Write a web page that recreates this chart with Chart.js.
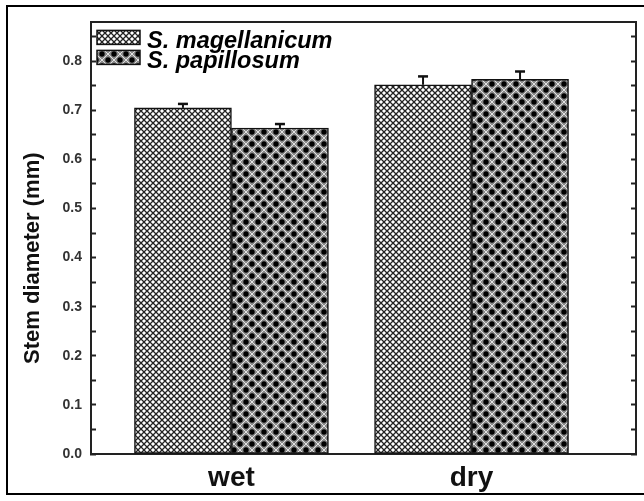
<!DOCTYPE html>
<html>
<head>
<meta charset="utf-8">
<script src="https://cdn.jsdelivr.net/npm/chart.js@4.4.1/dist/chart.umd.min.js"></script>
<style>
  html, body { margin: 0; padding: 0; background: #fff; overflow: hidden; }
  #wrap { position: relative; width: 644px; height: 501px; }
  #frame { position: absolute; left: 6px; top: 5px; width: 700px; height: 486px; border: 2px solid #000; pointer-events: none; }
</style>
</head>
<body>
<div id="wrap">
  <canvas id="chart" width="644" height="501"></canvas>
  <div id="frame"></div>
</div>
<script>
var categories = ['wet', 'dry'];
var seriesNames = ['S. magellanicum', 'S. papillosum'];
var magellanicum = [0.705, 0.752];
var papillosum = [0.664, 0.763];
var magellanicumErr = [0.008, 0.017];
var papillosumErr = [0.008, 0.016];
var yTickLabels = ['0.0', '0.1', '0.2', '0.3', '0.4', '0.5', '0.6', '0.7', '0.8'];
var yTitle = 'Stem diameter (mm)';

var ctx = document.getElementById('chart').getContext('2d');

function makePattern(size, paint) {
  var c = document.createElement('canvas');
  c.width = size; c.height = size;
  var g = c.getContext('2d');
  paint(g, size);
  return ctx.createPattern(c, 'repeat');
}

// light crosshatch
var magPattern = makePattern(6, function (g, s) {
  g.fillStyle = '#fff';
  g.fillRect(0, 0, s, s);
  g.strokeStyle = '#222';
  g.lineWidth = 1.3;
  g.beginPath();
  g.moveTo(0, 0); g.lineTo(s, s);
  g.moveTo(s, 0); g.lineTo(0, s);
  g.stroke();
});

// gray with black dots
var papPattern = makePattern(12, function (g, s) {
  g.fillStyle = '#8a8a8a';
  g.fillRect(0, 0, s, s);
  g.strokeStyle = '#e0e0e0';
  g.lineWidth = 1;
  g.beginPath();
  g.moveTo(0, s / 2); g.lineTo(s / 2, 0); g.lineTo(s, s / 2); g.lineTo(s / 2, s); g.closePath();
  g.stroke();
  g.fillStyle = '#000';
  [[0, 0], [s, 0], [0, s], [s, s], [s / 2, s / 2]].forEach(function (p) {
    g.beginPath(); g.arc(p[0], p[1], 2.7, 0, Math.PI * 2); g.fill();
  });
});

function points(vals) {
  return vals.map(function (v, i) { return { x: i + 1, y: v }; });
}

// major ticks from labels, minor ticks halfway
var yTickValues = [];
yTickLabels.forEach(function (t) {
  var v = parseFloat(t);
  yTickValues.push(v);
  if (v < 0.85) yTickValues.push(v + 0.05);
});

function yTicks(scale) {
  scale.ticks = yTickValues.map(function (v) { return { value: v }; });
}

function yLabel(v) {
  var k = Math.round(v * 100);
  return k % 10 === 0 ? (k / 100).toFixed(1) : '';
}

var errorBars = {
  id: 'errorBars',
  afterDatasetsDraw: function (chart) {
    var c = chart.ctx, y = chart.scales.y;
    chart.data.datasets.forEach(function (ds, i) {
      chart.getDatasetMeta(i).data.forEach(function (bar, j) {
        var top = y.getPixelForValue(ds.data[j].y + ds.errors[j]);
        c.save();
        c.strokeStyle = '#111';
        c.lineWidth = 2;
        c.beginPath();
        c.moveTo(bar.x, bar.y); c.lineTo(bar.x, top);
        c.stroke();
        c.lineWidth = 2.5;
        c.beginPath();
        c.moveTo(bar.x - 5, top); c.lineTo(bar.x + 5, top);
        c.stroke();
        c.restore();
      });
    });
  }
};

// legend inside the plot box + rotated axis title
var extras = {
  id: 'extras',
  afterDraw: function (chart) {
    var c = chart.ctx, a = chart.chartArea;
    c.save();
    c.font = 'italic bold 23.5px Arial';
    c.textBaseline = 'alphabetic';
    c.textAlign = 'left';
    chart.data.datasets.forEach(function (ds, i) {
      var top = a.top + 8 + i * 20;
      c.fillStyle = ds.backgroundColor;
      c.fillRect(a.left + 6, top, 43, 14);
      c.strokeStyle = ds.borderColor;
      c.lineWidth = 1.5;
      c.strokeRect(a.left + 6, top, 43, 14);
      c.fillStyle = '#000';
      c.fillText(ds.label, a.left + 56, top + 18);
    });
    c.translate(32.5, (a.top + a.bottom) / 2 + 20);
    c.rotate(-Math.PI / 2);
    c.font = 'bold 22px Arial';
    c.fillStyle = '#111';
    c.textAlign = 'center';
    c.textBaseline = 'middle';
    c.fillText(yTitle, 0, 0);
    c.restore();
  }
};

var xMin = 0.415, xMax = 2.685, yMax = 0.879;
var axisColor = '#222';

new Chart(ctx, {
  type: 'bar',
  data: {
    datasets: [
      { label: seriesNames[0], data: points(magellanicum), errors: magellanicumErr,
        backgroundColor: magPattern, borderColor: '#111', borderWidth: 1.5, borderSkipped: false },
      { label: seriesNames[1], data: points(papillosum), errors: papillosumErr,
        backgroundColor: papPattern, borderColor: '#111', borderWidth: 1.5, borderSkipped: false }
    ]
  },
  options: {
    responsive: false,
    animation: false,
    barThickness: 97,
    layout: { padding: { top: 18, left: 0, right: 0, bottom: 0 } },
    scales: {
      x: {
        type: 'linear', position: 'bottom', min: xMin, max: xMax, offset: false,
        afterBuildTicks: function (s) { s.ticks = categories.map(function (c, i) { return { value: i + 1 }; }); },
        afterFit: function (s) { s.height = 47; },
        grid: { drawOnChartArea: false, drawTicks: false, offset: false },
        border: { color: axisColor, width: 2 },
        ticks: { autoSkip: false, maxRotation: 0, padding: 7, color: '#111',
          font: { family: 'Arial', weight: 'bold', size: 28 },
          callback: function (v) { return categories[v - 1]; } }
      },
      xTop: {
        type: 'linear', position: 'top', min: xMin, max: xMax, offset: false,
        afterFit: function (s) { s.height = 0; },
        grid: { drawOnChartArea: false, drawTicks: false, offset: false },
        border: { color: axisColor, width: 2 },
        ticks: { display: false }
      },
      y: {
        position: 'left', min: 0, max: yMax,
        afterBuildTicks: yTicks,
        afterFit: function (s) { s.width = 91; },
        grid: { drawOnChartArea: false, drawTicks: true, tickLength: -5, tickColor: axisColor, tickWidth: 2 },
        border: { color: axisColor, width: 2 },
        ticks: { autoSkip: false, padding: 14, color: '#333',
          font: { family: 'Arial', weight: 'bold', size: 14 }, callback: yLabel }
      },
      yRight: {
        position: 'right', min: 0, max: yMax,
        afterBuildTicks: yTicks,
        afterFit: function (s) { s.width = 8; },
        grid: { drawOnChartArea: false, drawTicks: true, tickLength: -5, tickColor: axisColor, tickWidth: 2 },
        border: { color: axisColor, width: 2 },
        ticks: { display: false }
      }
    },
    plugins: {
      legend: { display: false },
      tooltip: { enabled: false }
    }
  },
  plugins: [errorBars, extras]
});
</script>
</body>
</html>
